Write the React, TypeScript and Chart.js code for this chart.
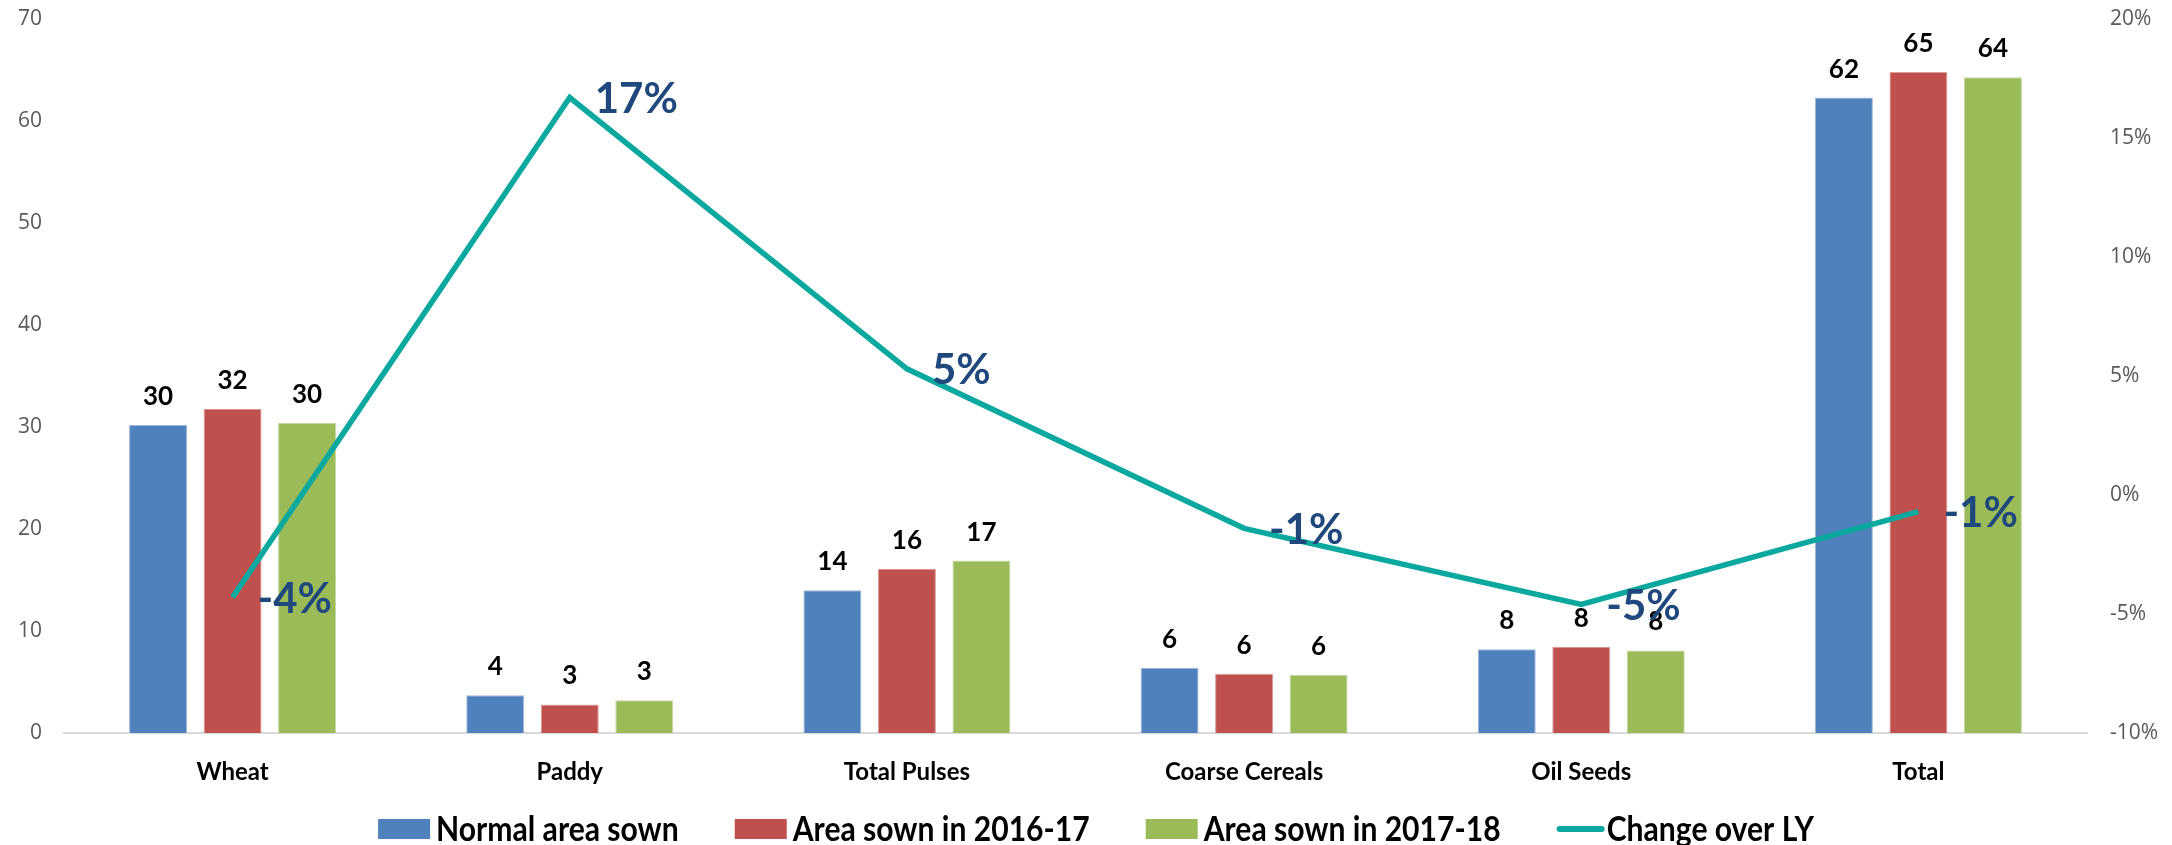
import React, { useEffect, useRef } from 'react';
import { Chart, registerables } from 'chart.js';

Chart.register(...registerables);

const categories = ['Wheat', 'Paddy', 'Total Pulses', 'Coarse Cereals', 'Oil Seeds', 'Total'];
const normalAreaSown = [30.2, 3.7, 14.0, 6.4, 8.2, 62.3];
const areaSown201617 = [31.8, 2.8, 16.1, 5.8, 8.45, 64.8];
const areaSown201718 = [30.4, 3.2, 16.9, 5.7, 8.1, 64.3];
const changeOverLY = [-4.3, 16.7, 5.3, -1.4, -4.6, -0.7];

const seriesNames = ['Normal area sown', 'Area sown in 2016-17', 'Area sown in 2017-18', 'Change over LY'];
const leftAxis = { min: 0, max: 70, step: 10 };
const rightAxis = { min: -10, max: 20, step: 5 };

const BLUE = '#4F81BD';
const RED = '#C0504D';
const GREEN = '#9BBB59';
const TEAL = '#0AA89E';
const LABEL_BLUE = '#1F497D';

const labelPlugin = {
  id: 'valueLabels',
  afterDatasetsDraw(chart: any) {
    const ctx = chart.ctx;
    ctx.save();
    for (let i = 0; i < 3; i++) {
      const meta = chart.getDatasetMeta(i);
      const vals = chart.data.datasets[i].data as number[];
      ctx.font = 'bold 26px Lato';
      ctx.fillStyle = '#000000';
      ctx.textAlign = 'center';
      ctx.textBaseline = 'alphabetic';
      meta.data.forEach((bar: any, j: number) => {
        ctx.fillText(String(Math.round(vals[j])), bar.x, bar.y - 20);
      });
    }
    const lmeta = chart.getDatasetMeta(3);
    const lvals = chart.data.datasets[3].data as number[];
    ctx.font = 'bold 42px Lato';
    ctx.fillStyle = LABEL_BLUE;
    ctx.textAlign = 'left';
    ctx.textBaseline = 'middle';
    lmeta.data.forEach((pt: any, j: number) => {
      ctx.fillText(Math.round(lvals[j]) + '%', pt.x + 25, pt.y + 2);
    });
    ctx.restore();
  },
};

const legendPlugin = {
  id: 'customLegend',
  afterDraw(chart: any) {
    const ctx = chart.ctx;
    const items = [
      { text: seriesNames[0], color: BLUE, line: false },
      { text: seriesNames[1], color: RED, line: false },
      { text: seriesNames[2], color: GREEN, line: false },
      { text: seriesNames[3], color: TEAL, line: true },
    ];
    ctx.save();
    ctx.font = 'bold 35px Lato';
    const sx = 0.86;
    const keyW = (it: any) => (it.line ? 48 : 52);
    const keyGap = (it: any) => (it.line ? 2 : 6);
    const widths = items.map((it) => keyW(it) + keyGap(it) + ctx.measureText(it.text).width * sx);
    const gap = 56;
    const total = widths.reduce((a, b) => a + b, 0) + gap * (items.length - 1);
    let x = 1096 - total / 2;
    const y = 829;
    items.forEach((it, k) => {
      if (it.line) {
        ctx.strokeStyle = it.color;
        ctx.lineWidth = 6;
        ctx.lineCap = 'round';
        ctx.beginPath();
        ctx.moveTo(x + 3, y);
        ctx.lineTo(x + keyW(it) - 3, y);
        ctx.stroke();
      } else {
        ctx.fillStyle = it.color;
        ctx.fillRect(x, y - 10, 52, 20);
      }
      const tx = x + keyW(it) + keyGap(it);
      ctx.save();
      ctx.translate(tx, y);
      ctx.scale(sx, 1);
      ctx.fillStyle = '#000000';
      ctx.textAlign = 'left';
      ctx.textBaseline = 'middle';
      ctx.fillText(it.text, 0, 1);
      ctx.restore();
      x += widths[k] + gap;
    });
    ctx.restore();
  },
};

export default function App() {
  const canvasRef = useRef<HTMLCanvasElement | null>(null);

  useEffect(() => {
    const canvas = canvasRef.current;
    if (!canvas) return;
    const fitY = (w: number) => (s: any) => {
      s.width = w;
      s.paddingTop = 0;
      s.paddingBottom = 0;
    };
    const chart = new Chart(canvas, {
      type: 'bar',
      data: {
        labels: categories,
        datasets: [
          {
            label: seriesNames[0],
            data: normalAreaSown,
            backgroundColor: BLUE,
            borderColor: '#9DB7DA',
            borderWidth: 1,
            yAxisID: 'y',
            order: 1,
            categoryPercentage: 0.663,
            barPercentage: 0.778,
          } as any,
          {
            label: seriesNames[1],
            data: areaSown201617,
            backgroundColor: RED,
            borderColor: '#D99A98',
            borderWidth: 1,
            yAxisID: 'y',
            order: 1,
            categoryPercentage: 0.663,
            barPercentage: 0.778,
          } as any,
          {
            label: seriesNames[2],
            data: areaSown201718,
            backgroundColor: GREEN,
            borderColor: '#C3D89F',
            borderWidth: 1,
            yAxisID: 'y',
            order: 1,
            categoryPercentage: 0.663,
            barPercentage: 0.778,
          } as any,
          {
            type: 'line',
            label: seriesNames[3],
            data: changeOverLY,
            borderColor: TEAL,
            backgroundColor: TEAL,
            borderWidth: 5.5,
            pointRadius: 0,
            tension: 0,
            yAxisID: 'y1',
            order: 0,
          } as any,
        ],
      },
      options: {
        responsive: false,
        maintainAspectRatio: false,
        animation: false,
        layout: { padding: { top: 19, bottom: 42, left: 0, right: 0 } },
        plugins: {
          legend: { display: false },
          tooltip: { enabled: false },
        },
        scales: {
          x: {
            grid: { display: false, drawTicks: false },
            border: { display: true, color: '#D9D9D9', width: 2 },
            ticks: {
              font: { family: 'Lato', weight: 'bold', size: 24 },
              color: '#000000',
              padding: 25,
              maxRotation: 0,
              autoSkip: false,
            },
            afterFit: (s: any) => {
              s.height = 70;
            },
          },
          y: {
            position: 'left',
            min: leftAxis.min,
            max: leftAxis.max,
            grid: { display: false, drawTicks: false },
            border: { display: false },
            ticks: {
              stepSize: leftAxis.step,
              font: { family: 'Open Sans', size: 21 },
              color: '#595959',
              padding: 22,
            },
            afterFit: fitY(64),
          },
          y1: {
            position: 'right',
            min: rightAxis.min,
            max: rightAxis.max,
            grid: { display: false, drawTicks: false },
            border: { display: false },
            ticks: {
              stepSize: rightAxis.step,
              font: { family: 'Open Sans', size: 21 },
              color: '#595959',
              padding: 23,
              callback: (v: any) => v + '%',
            },
            afterFit: fitY(85),
          },
        },
      },
      plugins: [labelPlugin, legendPlugin],
    });
    return () => chart.destroy();
  }, []);

  return (
    <div style={{ position: 'absolute', left: 0, top: 0, width: 2172, height: 845, background: '#ffffff' }}>
      <canvas ref={canvasRef} width={2172} height={845} style={{ width: 2172, height: 845, display: 'block' }} />
    </div>
  );
}
